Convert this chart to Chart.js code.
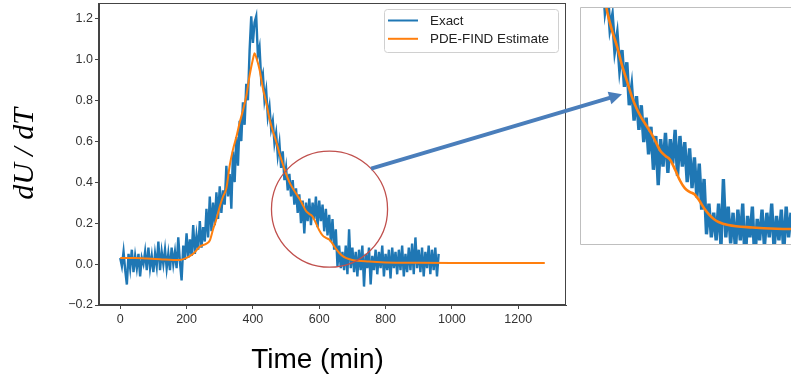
<!DOCTYPE html>
<html><head><meta charset="utf-8">
<script src="https://cdn.jsdelivr.net/npm/chart.js@4/dist/chart.umd.min.js"></script>
<style>
html,body{margin:0;padding:0;background:#fff;overflow:hidden;width:791px;height:381px;}
#wrap{position:relative;width:791px;height:381px;}
canvas{position:absolute;}
</style></head><body>
<div id="wrap">
<canvas id="main" width="791" height="381" style="left:0;top:0"></canvas>
<canvas id="inset" width="211" height="238" style="left:580px;top:7px"></canvas>
<canvas id="over" width="791" height="381" style="left:0;top:0;pointer-events:none"></canvas>
</div>
<script>
// ---- data ----
const seriesNames = ['Exact', 'PDE-FIND Estimate'];
const xTitle = 'Time (min)';
const yTitle = 'dU / dT';
const xTickValues = [0, 200, 400, 600, 800, 1000, 1200];
const yTickValues = [-0.2, 0.0, 0.2, 0.4, 0.6, 0.8, 1.0, 1.2];

const exactTime = [
  0,5,10,15,20,25,30,35,40,45,50,55,60,65,70,75,80,85,90,95,
  100,105,110,115,120,125,130,135,140,145,150,155,160,165,170,175,180,185,190,195,
  200,205,210,215,220,225,230,235,240,245,250,255,260,265,270,275,280,285,290,295,
  300,305,310,315,320,325,330,335,340,345,350,355,360,365,370,375,380,385,390,395,
  400,405,410,415,420,425,430,435,440,445,450,455,460,465,470,475,480,485,490,495,
  500,505,510,515,520,525,530,535,540,545,550,555,560,565,570,575,580,585,590,595,
  600,605,610,615,620,625,630,635,640,645,650,655,660,665,670,675,680,685,690,695,
  700,705,710,715,720,725,730,735,740,745,750,755,760,765,770,775,780,785,790,795,
  800,805,810,815,820,825,830,835,840,845,850,855,860,865,870,875,880,885,890,895,
  900,905,910,915,920,925,930,935,940,945,950,955,960
];
const exactValue = [
  0.03,-0.01,0.06,-0.03,-0.10,0.05,-0.02,0.07,-0.04,0.04,-0.02,0.05,-0.06,0.03,0.00,0.06,-0.03,0.08,-0.02,0.04,
  -0.04,0.05,-0.01,0.11,-0.03,0.06,0.00,0.07,-0.02,0.05,-0.03,0.08,0.00,0.06,-0.02,0.13,0.01,-0.08,0.09,0.02,
  0.15,0.03,0.12,0.04,0.19,0.05,0.14,0.07,0.21,0.08,0.18,0.11,0.27,0.13,0.33,0.16,0.30,0.19,0.35,0.22,
  0.38,0.25,0.36,0.29,0.48,0.33,0.44,0.27,0.55,0.40,0.62,0.48,0.70,0.60,0.79,0.68,0.88,0.80,1.04,1.21,
  1.08,1.18,1.21,1.02,1.06,0.90,0.93,0.80,0.85,0.72,0.77,0.66,0.70,0.59,0.64,0.53,0.59,0.47,0.55,0.41,
  0.47,0.36,0.44,0.33,0.41,0.29,0.37,0.25,0.34,0.20,0.31,0.15,0.30,0.21,0.32,0.19,0.30,0.22,0.33,0.18,
  0.31,0.21,0.29,0.16,0.27,0.14,0.24,0.11,0.22,0.07,0.17,-0.01,0.09,-0.02,0.06,-0.03,0.09,-0.05,0.17,-0.02,
  0.08,-0.04,0.06,-0.06,0.07,-0.03,0.09,-0.11,0.05,-0.02,0.08,-0.10,0.04,-0.03,0.07,-0.05,0.06,-0.02,0.09,-0.06,
  0.05,-0.03,0.07,-0.07,0.08,-0.02,0.06,-0.05,0.07,-0.03,0.09,-0.06,0.05,-0.04,0.08,-0.03,0.10,-0.05,0.13,-0.02,
  0.07,-0.04,0.08,-0.06,0.06,-0.02,0.09,-0.05,0.07,-0.03,0.08,-0.06,0.05
];

const estimateTime = [0,40,80,120,160,180,200,220,240,260,
  270,280,290,300,310,320,330,340,350,360,370,380,390,400,405,410,
  420,430,440,450,460,470,480,490,500,510,520,530,540,550,560,570,580,590,600,610,620,630,640,650,660,670,680,
  700,750,800,900,1000,1100,1200,1280];
const estimateValue = [0.03,0.03,0.027,0.024,0.02,0.02,0.03,0.05,0.085,0.1,
  0.115,0.17,0.22,0.28,0.33,0.37,0.48,0.56,0.62,0.69,0.75,0.82,0.92,1.0,1.03,1.01,
  0.95,0.86,0.79,0.71,0.65,0.6,0.54,0.49,0.44,0.4,0.37,0.345,0.32,0.29,0.26,0.245,0.232,0.2,0.165,0.14,0.128,0.12,0.1,0.075,0.055,0.04,0.03,
  0.02,0.012,0.008,0.006,0.005,0.005,0.005,0.005];

// axis ranges
const xRange = [-64, 1344];
const yRange = [-0.2, 1.275];
const insetXRange = [393, 830];
const insetYRange = [-0.045, 0.73];
// annotation (data coordinates)
const zoomCircle = {t: 631, v: 0.268, rt: 175};
const arrowStartAngle = -44.3;
const arrowTip = {t: 480, v: 0.446};

const BLUE = '#1f77b4', ORANGE = '#ff7f0e';
const toXY = (ts, vs) => ts.map((t, i) => ({x: t, y: vs[i]}));

function datasets(wBlue, wOrange) {
  return [
    {label: seriesNames[1], data: toXY(estimateTime, estimateValue), borderColor: ORANGE,
     borderWidth: wOrange, pointRadius: 0, cubicInterpolationMode: 'monotone', order: 0},
    {label: seriesNames[0], data: toXY(exactTime, exactValue), borderColor: BLUE,
     borderWidth: wBlue, pointRadius: 0, tension: 0, order: 1, borderJoinStyle: 'miter'}
  ];
}

const tickFont = {family: 'Liberation Sans', size: 12.5};
const frameColor = '#444';

const mainPlugin = {
  id: 'mainDecor',
  afterDatasetsDraw(chart) {
    const {ctx, scales: {x, y}} = chart;
    const cx = x.getPixelForValue(zoomCircle.t), cy = y.getPixelForValue(zoomCircle.v);
    const r = x.getPixelForValue(zoomCircle.t + zoomCircle.rt) - cx;
    ctx.save();
    ctx.strokeStyle = '#C0504D'; ctx.lineWidth = 1.3;
    ctx.beginPath(); ctx.arc(cx, cy, r, 0, Math.PI * 2); ctx.stroke();
    ctx.restore();
  },
  afterDraw(chart) {
    const {ctx, chartArea: a} = chart;
    ctx.save();
    ctx.strokeStyle = frameColor; ctx.lineWidth = 1;
    ctx.strokeRect(Math.round(a.left) - 0.5, Math.round(a.top) + 0.5,
                   Math.round(a.right - a.left), Math.round(a.bottom - a.top) - 1);
    // legend
    const lx = a.right - 182, ly = a.top + 6, lw = 174, lh = 43;
    ctx.fillStyle = 'rgba(255,255,255,0.9)'; ctx.strokeStyle = '#d0d0d0'; ctx.lineWidth = 1;
    ctx.beginPath();
    if (ctx.roundRect) ctx.roundRect(lx + 0.5, ly + 0.5, lw, lh, 3); else ctx.rect(lx + 0.5, ly + 0.5, lw, lh);
    ctx.fill(); ctx.stroke();
    const entries = [[seriesNames[0], BLUE], [seriesNames[1], ORANGE]];
    ctx.font = '13.4px "Liberation Sans"'; ctx.textBaseline = 'middle'; ctx.textAlign = 'left';
    entries.forEach(([name, col], i) => {
      const yy = ly + 11.5 + i * 18.3;
      ctx.strokeStyle = col; ctx.lineWidth = 2;
      ctx.beginPath(); ctx.moveTo(lx + 4, yy); ctx.lineTo(lx + 34, yy); ctx.stroke();
      ctx.fillStyle = '#222'; ctx.fillText(name, lx + 46, yy + 0.5);
    });
    // axis titles
    ctx.fillStyle = '#000';
    ctx.font = '28px "Liberation Sans"'; ctx.textAlign = 'center'; ctx.textBaseline = 'alphabetic';
    ctx.fillText(xTitle, 317.5, 368);
    ctx.save();
    ctx.translate(25, (a.top + a.bottom) / 2);
    ctx.rotate(-Math.PI / 2);
    ctx.font = 'italic 30px "Liberation Serif"'; ctx.textBaseline = 'middle';
    ctx.fillText(yTitle, 0, 0);
    ctx.restore();
    ctx.restore();
  }
};

const mainChart = new Chart(document.getElementById('main'), {
  type: 'line',
  data: {datasets: datasets(2.4, 2)},
  options: {
    responsive: false, animation: false, devicePixelRatio: 1,
    layout: {padding: {left: 0, top: 3, right: 225, bottom: 46}},
    plugins: {legend: {display: false}, tooltip: {enabled: false}},
    scales: {
      x: {
        type: 'linear', min: xRange[0], max: xRange[1],
        afterBuildTicks: s => { s.ticks = xTickValues.map(v => ({value: v})); },
        afterFit: s => { s.height = 30; s.paddingLeft = 0; s.paddingRight = 0; },
        grid: {display: true, drawOnChartArea: false, drawTicks: true, tickLength: 4, color: frameColor},
        border: {display: true, color: frameColor, width: 1},
        ticks: {color: '#333', font: tickFont, padding: 3, maxRotation: 0, autoSkip: false,
                callback: v => String(v)}
      },
      y: {
        type: 'linear', min: yRange[0], max: yRange[1],
        afterBuildTicks: s => { s.ticks = yTickValues.map(v => ({value: v})); },
        afterFit: s => { s.width = 99; s.paddingTop = 0; s.paddingBottom = 0; },
        grid: {display: true, drawOnChartArea: false, drawTicks: true, tickLength: 4, color: frameColor},
        border: {display: true, color: frameColor, width: 1},
        ticks: {color: '#333', font: tickFont, padding: 2, autoSkip: false,
                callback: v => (v < 0 ? '\u2212' : '') + Math.abs(v).toFixed(1)}
      }
    }
  },
  plugins: [mainPlugin]
});

const insetPlugin = {
  id: 'insetBorder',
  afterDraw(chart) {
    const {ctx, width, height} = chart;
    ctx.save();
    ctx.strokeStyle = '#bfbfbf'; ctx.lineWidth = 1;
    ctx.beginPath();
    ctx.moveTo(width + 2, 0.5); ctx.lineTo(0.5, 0.5); ctx.lineTo(0.5, height - 0.5); ctx.lineTo(width + 2, height - 0.5);
    ctx.stroke();
    ctx.restore();
  }
};

const insetChart = new Chart(document.getElementById('inset'), {
  type: 'line',
  data: {datasets: datasets(3.4, 2.6)},
  options: {
    responsive: false, animation: false, devicePixelRatio: 1,
    layout: {padding: 0},
    plugins: {legend: {display: false}, tooltip: {enabled: false}},
    scales: {
      x: {type: 'linear', display: false, min: insetXRange[0], max: insetXRange[1]},
      y: {type: 'linear', display: false, min: insetYRange[0], max: insetYRange[1]}
    }
  },
  plugins: [insetPlugin]
});

(function drawArrow() {
  const c = document.getElementById('over').getContext('2d');
  const xs = mainChart.scales.x, ys = mainChart.scales.y;
  const cx = xs.getPixelForValue(zoomCircle.t), cy = ys.getPixelForValue(zoomCircle.v);
  const r = xs.getPixelForValue(zoomCircle.t + zoomCircle.rt) - cx;
  const a = arrowStartAngle * Math.PI / 180;
  const x0 = cx + r * Math.cos(a), y0 = cy + r * Math.sin(a);
  const insetEl = document.getElementById('inset');
  const x1 = insetEl.offsetLeft + insetChart.scales.x.getPixelForValue(arrowTip.t);
  const y1 = insetEl.offsetTop + insetChart.scales.y.getPixelForValue(arrowTip.v);
  const th = Math.atan2(y1 - y0, x1 - x0);
  const hl = 13, hw = 6.5;
  const bx = x1 - hl * Math.cos(th), by = y1 - hl * Math.sin(th);
  c.strokeStyle = '#4A7EBB'; c.fillStyle = '#4A7EBB'; c.lineWidth = 4; c.lineCap = 'butt';
  c.beginPath(); c.moveTo(x0, y0); c.lineTo(bx + Math.cos(th), by + Math.sin(th)); c.stroke();
  c.beginPath();
  c.moveTo(x1, y1);
  c.lineTo(bx + hw * Math.sin(th), by - hw * Math.cos(th));
  c.lineTo(bx - hw * Math.sin(th), by + hw * Math.cos(th));
  c.closePath(); c.fill();
})();
</script>
</body></html>
